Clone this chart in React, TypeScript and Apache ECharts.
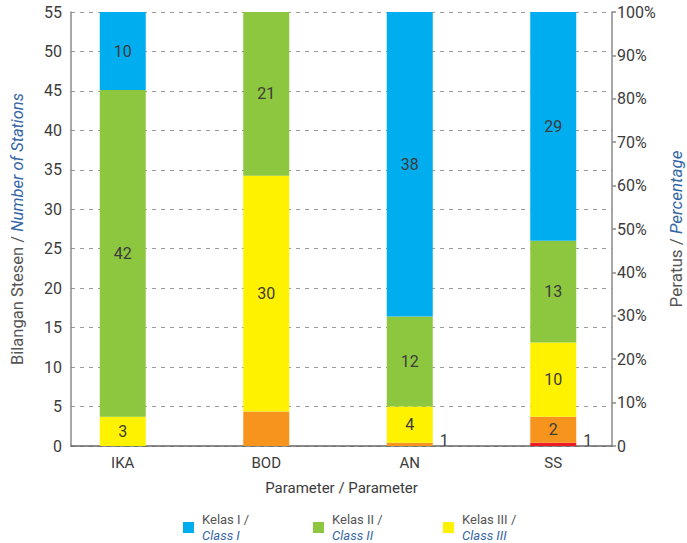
import React, { useEffect, useRef } from 'react';
import * as echarts from 'echarts';

const categories = ['IKA', 'BOD', 'AN', 'SS'];
// drawn bar heights (number of stations, left axis)
const kelasI = [9.9, 0, 38.58, 28.98];
const kelasII = [41.4, 20.74, 11.4, 12.9];
const kelasIII = [3.7, 29.9, 4.6, 9.4];
const kelasIV = [0, 4.36, 0.42, 3.3];
const kelasV = [0, 0, 0, 0.42];
// printed labels
const labelsI = ['10', '', '38', '29'];
const labelsII = ['42', '21', '12', '13'];
const labelsIII = ['3', '30', '4', '10'];
const labelsIV = ['', '', '1', '2'];
const labelsV = ['', '', '', '1'];
const outsideIV = [false, false, true, false];
const outsideV = [false, false, false, true];

const FONT = 'Roboto, sans-serif';
const TXT = '#3c3c3c';
const BLUE_TXT = '#3566a6';

function makeData(values: number[], labels: string[], outside?: boolean[]) {
  return values.map((v, i) => ({
    value: v,
    label: {
      show: labels[i] !== '',
      formatter: labels[i],
      position: outside && outside[i] ? 'right' : 'inside',
      distance: 7,
      offset: outside && outside[i] ? [0, -4] : [0, 0],
    },
  }));
}

export default function App() {
  const ref = useRef<HTMLDivElement>(null);
  useEffect(() => {
    if (!ref.current) return;
    const chart = echarts.init(ref.current, null, { renderer: 'svg' });
    const barLabel = { color: TXT, fontSize: 16, fontFamily: FONT };
    const mkSeries = (name: string, color: string, values: number[], labels: string[], outside?: boolean[]) => ({
      name,
      type: 'bar',
      stack: 'total',
      xAxisIndex: 1,
      yAxisIndex: 2,
      barWidth: 46,
      itemStyle: { color },
      label: barLabel,
      data: makeData(values, labels, outside),
    });
    const legendBase = {
      top: 513,
      padding: 0,
      itemWidth: 11,
      itemHeight: 11,
      icon: 'rect',
      formatter: (name: string) => `{a|${name} /}\n{b|${name.replace('Kelas', 'Class')}}`,
      textStyle: {
        fontFamily: FONT,
        rich: {
          a: { color: '#555', fontSize: 13, lineHeight: 16, fontFamily: FONT, padding: [0, 0, 0, 3] },
          b: { color: BLUE_TXT, fontSize: 13, lineHeight: 16, fontStyle: 'italic', fontFamily: FONT, padding: [0, 0, 0, 3] },
        },
      },
    };
    const nameRich = (size: number) => ({
      a: { color: '#555', fontSize: size, fontFamily: FONT },
      b: { color: BLUE_TXT, fontSize: size, fontStyle: 'italic', fontFamily: FONT },
    });
    chart.setOption({
      animation: false,
      textStyle: { fontFamily: FONT },
      grid: [
        { left: 71, right: 75, top: 12, bottom: 97, containLabel: false, outerBoundsMode: 'none' },
        { left: 51, right: 62, top: 12, bottom: 97, containLabel: false, outerBoundsMode: 'none' },
      ],
      legend: [
        { ...legendBase, data: ['Kelas I'], left: 183 },
        { ...legendBase, data: ['Kelas II'], left: 313 },
        { ...legendBase, data: ['Kelas III'], left: 443 },
      ],
      xAxis: [
        {
          type: 'category',
          gridIndex: 0,
          data: categories,
          axisLine: { show: true, lineStyle: { color: '#666', width: 1.5 } },
          axisTick: { show: false },
          axisLabel: { show: false },
          name: 'Parameter / Parameter',
          nameLocation: 'middle',
          nameGap: 34,
          nameTextStyle: { color: TXT, fontSize: 15, fontFamily: FONT },
        },
        {
          type: 'category',
          gridIndex: 1,
          data: categories,
          axisLine: { show: false },
          axisTick: { show: false },
          axisLabel: { color: TXT, fontSize: 15, fontFamily: FONT, margin: 9 },
        },
      ],
      yAxis: [
        {
          type: 'value',
          gridIndex: 0,
          min: 0,
          max: 55,
          interval: 5,
          axisLine: { show: true, lineStyle: { color: '#8a8a8a', width: 1.5 } },
          axisTick: { show: false },
          axisLabel: { color: TXT, fontSize: 16, fontFamily: FONT, margin: 9 },
          splitLine: { show: true, lineStyle: { color: '#9a9a9a', type: [4, 5], width: 1 } },
          name: '{a|Bilangan Stesen / }{b|Number of Stations}',
          nameLocation: 'middle',
          nameGap: 45,
          nameTextStyle: { rich: nameRich(16.5) },
        },
        {
          type: 'value',
          gridIndex: 0,
          position: 'right',
          min: 0,
          max: 100,
          interval: 10,
          axisLine: { show: true, lineStyle: { color: '#8a8a8a', width: 1.5 } },
          axisTick: { show: true, length: 4, lineStyle: { color: '#8a8a8a', width: 1.5 } },
          axisLabel: {
            color: TXT,
            fontSize: 16,
            fontFamily: FONT,
            margin: 5,
            formatter: (v: number) => (v === 0 ? '0' : `${v}%`),
          },
          splitLine: { show: false },
          name: '{a|Peratus / }{b|Percentage}',
          nameLocation: 'middle',
          nameGap: 55,
          nameRotate: 90,
          nameTextStyle: { rich: nameRich(17) },
        },
        {
          type: 'value',
          gridIndex: 1,
          min: 0,
          max: 55,
          interval: 5,
          show: false,
          splitLine: { show: false },
        },
      ],
      series: [
        mkSeries('Kelas V', '#ed1c24', kelasV, labelsV, outsideV),
        mkSeries('Kelas IV', '#f7941d', kelasIV, labelsIV, outsideIV),
        mkSeries('Kelas III', '#fff200', kelasIII, labelsIII),
        mkSeries('Kelas II', '#8dc63f', kelasII, labelsII),
        mkSeries('Kelas I', '#00aeef', kelasI, labelsI),
      ],
    });
    return () => chart.dispose();
  }, []);
  return <div ref={ref} style={{ position: 'absolute', left: 0, top: 0, width: 687, height: 543 }} />;
}
